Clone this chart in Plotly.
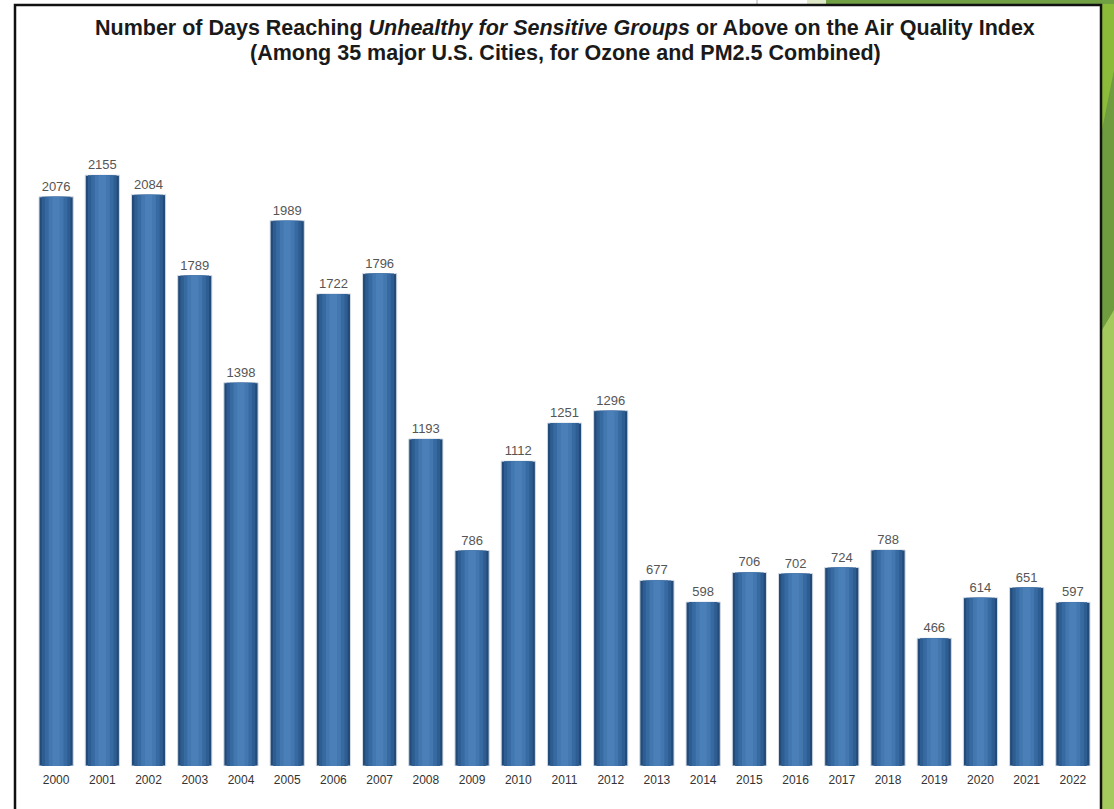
import plotly.graph_objects as go

years = [str(y) for y in range(2000, 2023)]
days = [2076, 2155, 2084, 1789, 1398, 1989, 1722, 1796, 1193, 786, 1112, 1251,
        1296, 677, 598, 706, 702, 724, 788, 466, 614, 651, 597]

title_line1 = "<b>Number of Days Reaching <i>Unhealthy for Sensitive Groups</i> or Above on the Air Quality Index</b>"
title_line2 = "<b>(Among 35 major U.S. Cities, for Ozone and PM2.5 Combined)</b>"

W, H = 1114, 809
L, R, T, B = 33, 18, 108, 43
pw, ph = W - L - R, H - T - B

def px(x):
    return (x - L) / pw

def py(y):
    return (H - B - y) / ph

FONT = "Liberation Sans, Arial, Helvetica, sans-serif"

fig = go.Figure()

# layered bars to mimic the cylindrical shading
layers = [
    (0.74, "#234b7a", True),
    (0.62, "#2e5d91", False),
    (0.48, "#386aa2", False),
    (0.32, "#4277b0", False),
    (0.16, "#4a7fb8", False),
]
for w, col, lab in layers:
    fig.add_trace(go.Bar(
        x=years, y=days, width=w,
        marker=dict(color=col, line=dict(color="#d5dce5" if lab else col, width=1 if lab else 0)),
        text=[str(v) for v in days] if lab else None,
        textposition="outside" if lab else "none",
        textfont=dict(family=FONT, size=13, color="#555555"),
        cliponaxis=False,
        hoverinfo="skip" if not lab else None,
        showlegend=False,
    ))

shapes = []
# green decorative side
shapes.append(dict(type="rect", xref="paper", yref="paper",
                   x0=px(1102), x1=px(1120), y0=py(815), y1=py(-5),
                   fillcolor="#8cbb3a", line=dict(width=0), layer="below"))
shapes.append(dict(type="path", xref="paper", yref="paper",
                   path=f"M {px(1102)},{py(130)} L {px(1120)},{py(40)} L {px(1120)},{py(330)} L {px(1102)},{py(370)} Z",
                   fillcolor="#6e9c3e", line=dict(width=0), layer="below"))
shapes.append(dict(type="path", xref="paper", yref="paper",
                   path=f"M {px(1102)},{py(330)} L {px(1120)},{py(300)} L {px(1120)},{py(815)} L {px(1102)},{py(815)} Z",
                   fillcolor="#a4c95c", line=dict(width=0), layer="below"))
# top strip
shapes.append(dict(type="rect", xref="paper", yref="paper",
                   x0=px(807), x1=px(826), y0=py(4), y1=py(-5),
                   fillcolor="#dfe9c8", line=dict(width=0), layer="below"))
shapes.append(dict(type="rect", xref="paper", yref="paper",
                   x0=px(826), x1=px(1120), y0=py(4), y1=py(-5),
                   fillcolor="#71a044", line=dict(width=0), layer="below"))
shapes.append(dict(type="line", xref="paper", yref="paper",
                   x0=px(757), x1=px(757), y0=py(4), y1=py(-5),
                   line=dict(color="#aaaaaa", width=1)))
# frame
shapes.append(dict(type="rect", xref="paper", yref="paper",
                   x0=px(15), x1=px(1101), y0=py(815), y1=py(5),
                   line=dict(color="#111111", width=2.5), fillcolor="rgba(0,0,0,0)"))

annotations = [
    dict(text=title_line1, xref="paper", yref="paper", x=px(565), y=py(28),
         xanchor="center", yanchor="middle", showarrow=False,
         font=dict(family=FONT, size=21.5, color="#1a1a1a")),
    dict(text=title_line2, xref="paper", yref="paper", x=px(565), y=py(53),
         xanchor="center", yanchor="middle", showarrow=False,
         font=dict(family=FONT, size=21.5, color="#1a1a1a")),
]

fig.update_layout(
    width=W, height=H,
    margin=dict(l=L, r=R, t=T, b=B),
    paper_bgcolor="white", plot_bgcolor="white",
    barmode="overlay",
    xaxis=dict(
        type="category", range=[-0.5, 22.5], showgrid=False, showline=False,
        ticks="", ticklabelstandoff=5,
        tickfont=dict(family=FONT, size=12, color="#333333"),
        fixedrange=True,
    ),
    yaxis=dict(range=[0, 2400], visible=False, showgrid=False, zeroline=False),
    shapes=shapes,
    annotations=annotations,
    showlegend=False,
)

fig.write_html("out.html", config={"displayModeBar": False})

# remove the default page margin so the figure fills the window exactly
with open("out.html", "r", encoding="utf-8") as f:
    html = f.read()
html = html.replace("<body>", '<body style="margin:0;padding:0;overflow:hidden">', 1)
with open("out.html", "w", encoding="utf-8") as f:
    f.write(html)
